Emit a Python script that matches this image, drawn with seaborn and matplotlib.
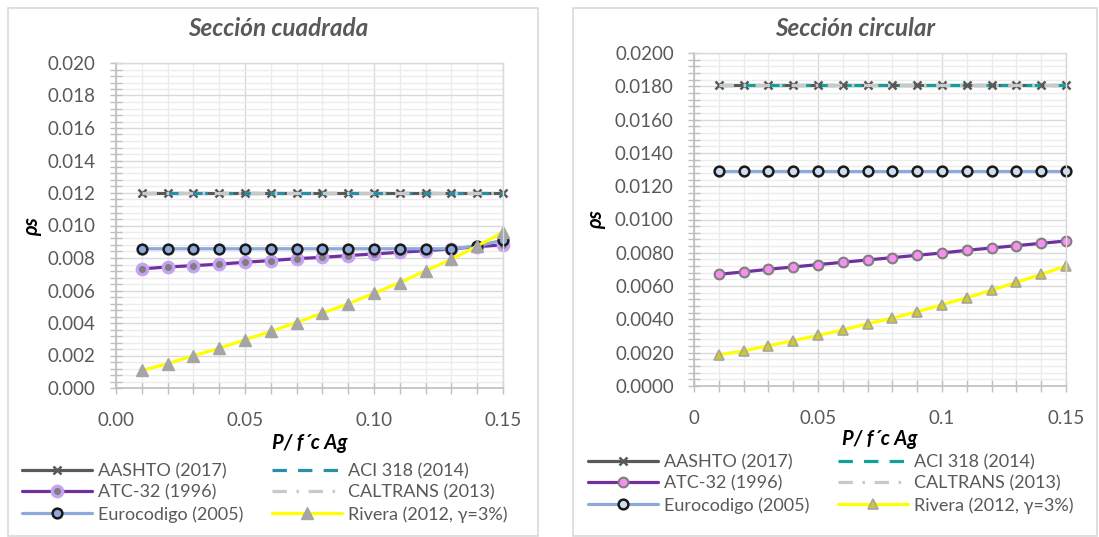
import matplotlib
matplotlib.use("Agg")
import matplotlib.pyplot as plt
import seaborn as sns
from matplotlib.patches import Rectangle
from matplotlib.ticker import MultipleLocator, FuncFormatter

# ---------------- data ----------------
x_vals = [0.01, 0.02, 0.03, 0.04, 0.05, 0.06, 0.07, 0.08, 0.09, 0.10, 0.11, 0.12, 0.13, 0.14, 0.15]
series_names = ["AASHTO (2017)", "ACI 318 (2014)", "ATC-32 (1996)",
                "CALTRANS (2013)", "Eurocodigo (2005)", "Rivera (2012, γ=3%)"]

# Sección cuadrada
sq_aashto = [0.0120, 0.0120, 0.0120, 0.0120, 0.0120, 0.0120, 0.0120, 0.0120, 0.0120, 0.0120, 0.0120, 0.0120, 0.0120, 0.0120, 0.0120]
sq_aci = [0.0120, 0.0120, 0.0120, 0.0120, 0.0120, 0.0120, 0.0120, 0.0120, 0.0120, 0.0120, 0.0120, 0.0120, 0.0120, 0.0120, 0.0120]
sq_atc = [0.00733, 0.00745, 0.00753, 0.00762, 0.00774, 0.00784, 0.00796, 0.00804, 0.00815, 0.00825, 0.00835, 0.00845, 0.00856, 0.00870, 0.00880]
sq_caltrans = [0.0120, 0.0120, 0.0120, 0.0120, 0.0120, 0.0120, 0.0120, 0.0120, 0.0120, 0.0120, 0.0120, 0.0120, 0.0120, 0.0120, 0.0120]
sq_euro = [0.00857, 0.00857, 0.00857, 0.00857, 0.00857, 0.00857, 0.00857, 0.00857, 0.00857, 0.00857, 0.00857, 0.00857, 0.00857, 0.00874, 0.00910]
sq_rivera = [0.00108, 0.00149, 0.00199, 0.00244, 0.00297, 0.00348, 0.00403, 0.00461, 0.00518, 0.00583, 0.00649, 0.00721, 0.00792, 0.00874, 0.00958]

# Sección circular
ci_aashto = [0.0181, 0.0181, 0.0181, 0.0181, 0.0181, 0.0181, 0.0181, 0.0181, 0.0181, 0.0181, 0.0181, 0.0181, 0.0181, 0.0181, 0.0181]
ci_aci = [0.0181, 0.0181, 0.0181, 0.0181, 0.0181, 0.0181, 0.0181, 0.0181, 0.0181, 0.0181, 0.0181, 0.0181, 0.0181, 0.0181, 0.0181]
ci_atc = [0.00671, 0.00685, 0.00701, 0.00715, 0.00729, 0.00743, 0.00757, 0.00771, 0.00785, 0.00799, 0.00815, 0.00829, 0.00843, 0.00857, 0.00871]
ci_caltrans = [0.0181, 0.0181, 0.0181, 0.0181, 0.0181, 0.0181, 0.0181, 0.0181, 0.0181, 0.0181, 0.0181, 0.0181, 0.0181, 0.0181, 0.0181]
ci_euro = [0.01289, 0.01289, 0.01289, 0.01289, 0.01289, 0.01289, 0.01289, 0.01289, 0.01289, 0.01289, 0.01289, 0.01289, 0.01289, 0.01289, 0.01289]
ci_rivera = [0.00188, 0.00210, 0.00242, 0.00272, 0.00304, 0.00336, 0.00374, 0.00408, 0.00446, 0.00488, 0.00530, 0.00575, 0.00623, 0.00671, 0.00721]

titles = ["Sección cuadrada", "Sección circular"]
xlabel = "P/ f´c Ag"
ylabel = "ρs"
x_ticklabels_sq = ["0.00", "0.05", "0.10", "0.15"]
x_ticklabels_ci = ["0", "0.05", "0.1", "0.15"]

# ---------------- style ----------------
sns.set_style("white")
plt.rcParams["font.family"] = ["Lato", "DejaVu Sans"]
TXT = "#595959"
W, H = 1099, 537
fig = plt.figure(figsize=(W / 100, H / 100), dpi=100)

def fx(px):
    return px / W

def fy(py):
    return 1 - py / H

# chart frames
fig.patches.append(Rectangle((fx(8), fy(536)), fx(538) - fx(8), fy(8) - fy(536),
                             transform=fig.transFigure, fill=False, ec="#D9D9D9", lw=1.2))
fig.patches.append(Rectangle((fx(573), fy(536)), fx(1097) - fx(573), fy(8) - fy(536),
                             transform=fig.transFigure, fill=False, ec="#D9D9D9", lw=1.2))

ax1 = fig.add_axes([fx(116), fy(388), fx(503) - fx(116), fy(63) - fy(388)])
ax2 = fig.add_axes([fx(694), fy(386), fx(1066) - fx(694), fy(53) - fy(386)])

LW = 2.3
common = dict(lw=LW, clip_on=False, errorbar=None)

def draw(ax, data, styles):
    for name, y, st in zip(series_names, data, styles):
        sns.lineplot(x=x_vals, y=y, ax=ax, label=name, **common, **st)

sq_styles = [
    dict(color="#595959", marker="x", ms=6, markeredgecolor="#595959", markeredgewidth=1.8),
    dict(color="#2690A8", linestyle=(0, (4.5, 3.5))),
    dict(color="#7030A0", marker="o", ms=7.5, markerfacecolor="#7F7F7F",
         markeredgecolor="#C6A2F2", markeredgewidth=2.4),
    dict(color="#C9C9C9", linestyle=(0, (4.5, 3, 0.8, 3))),
    dict(color="#8EA9DB", marker="o", ms=7, markerfacecolor="#8EA9DB",
         markeredgecolor="#1A1A1A", markeredgewidth=1.8),
    dict(color="#FFFF00", marker="^", ms=8, markerfacecolor="#A5A5A5",
         markeredgecolor="#A5A5A5", markeredgewidth=1),
]
ci_styles = [
    dict(color="#595959", marker="x", ms=6, markeredgecolor="#595959", markeredgewidth=1.8),
    dict(color="#12A19A", linestyle=(0, (4.5, 3.5))),
    dict(color="#7030A0", marker="o", ms=7, markerfacecolor="#F78FF0",
         markeredgecolor="#7F7F7F", markeredgewidth=1.5),
    dict(color="#C9C9C9", linestyle=(0, (4.5, 3, 0.8, 3))),
    dict(color="#8EA9DB", marker="o", ms=7, markerfacecolor="#D0DCF0",
         markeredgecolor="#1A1A1A", markeredgewidth=1.8),
    dict(color="#FFFF00", marker="^", ms=7, markerfacecolor="#CFC82A",
         markeredgecolor="#A5A5A5", markeredgewidth=1.2),
]

draw(ax1, [sq_aashto, sq_aci, sq_atc, sq_caltrans, sq_euro, sq_rivera], sq_styles)
draw(ax2, [ci_aashto, ci_aci, ci_atc, ci_caltrans, ci_euro, ci_rivera], ci_styles)

def style_axis(ax, xtl, ydec):
    ax.set_xlim(0, 0.15)
    ax.set_ylim(0, 0.02)
    ax.xaxis.set_major_locator(MultipleLocator(0.05))
    ax.xaxis.set_minor_locator(MultipleLocator(0.01))
    ax.yaxis.set_major_locator(MultipleLocator(0.002))
    ax.yaxis.set_minor_locator(MultipleLocator(0.0004))
    ax.set_xticks([0, 0.05, 0.10, 0.15])
    ax.set_xticklabels(xtl)
    ax.yaxis.set_major_formatter(FuncFormatter(lambda v, p: f"{v:.{ydec}f}"))
    ax.grid(True, which="major", color="#D9D9D9", lw=1)
    ax.grid(True, which="minor", color="#ECECEC", lw=1)
    ax.set_axisbelow(True)
    for s in ["left", "bottom"]:
        ax.spines[s].set_color("#BFBFBF")
        ax.spines[s].set_linewidth(1.2)
    for s in ["top", "right"]:
        ax.spines[s].set_color("#D9D9D9")
        ax.spines[s].set_linewidth(1)
    ax.tick_params(which="both", direction="inout", color="#BFBFBF", width=1,
                   bottom=True, left=True, top=False, right=False)
    ax.tick_params(which="major", length=9, labelsize=13.5, labelcolor=TXT)
    ax.tick_params(which="minor", length=8)
    ax.tick_params(axis="x", which="major", pad=13)
    ax.tick_params(axis="y", which="major", pad=10)
    ax.set_xlabel("")
    ax.set_ylabel("")
    lg = ax.get_legend()
    if lg is not None:
        lg.remove()

style_axis(ax1, x_ticklabels_sq, 3)
style_axis(ax2, x_ticklabels_ci, 4)

# titles and axis labels
fig.text(fx(278), fy(29), titles[0], ha="center", va="center", fontsize=17.5,
         fontweight="bold", fontstyle="italic", color=TXT)
fig.text(fx(855), fy(29), titles[1], ha="center", va="center", fontsize=17.5,
         fontweight="bold", fontstyle="italic", color=TXT)
fig.text(fx(310), fy(443), xlabel, ha="center", va="center", fontsize=14.5,
         fontweight="bold", fontstyle="italic", color="black")
fig.text(fx(880), fy(439), xlabel, ha="center", va="center", fontsize=14.5,
         fontweight="bold", fontstyle="italic", color="black")
fig.text(fx(32), fy(227), ylabel, ha="center", va="center", fontsize=14.5,
         fontweight="bold", fontstyle="italic", color="black", rotation=90)
fig.text(fx(596), fy(220), ylabel, ha="center", va="center", fontsize=14.5,
         fontweight="bold", fontstyle="italic", color="black", rotation=90)

# legends (row-wise order as in Excel)
order = [0, 2, 4, 1, 3, 5]
for ax, (lx, ty) in zip([ax1, ax2], [(22, 463), (588, 454)]):
    h, l = ax.get_legend_handles_labels()
    leg = ax.legend([h[i] for i in order], [l[i] for i in order], ncol=2,
                    loc="upper left", bbox_to_anchor=(fx(lx), fy(ty)),
                    bbox_transform=fig.transFigure, frameon=False, fontsize=13,
                    handlelength=3.85, handletextpad=0.35, columnspacing=1.6,
                    labelspacing=0.3, borderpad=0, borderaxespad=0, numpoints=1)
    for t in leg.get_texts():
        t.set_color(TXT)

fig.savefig("out.png", dpi=100)
